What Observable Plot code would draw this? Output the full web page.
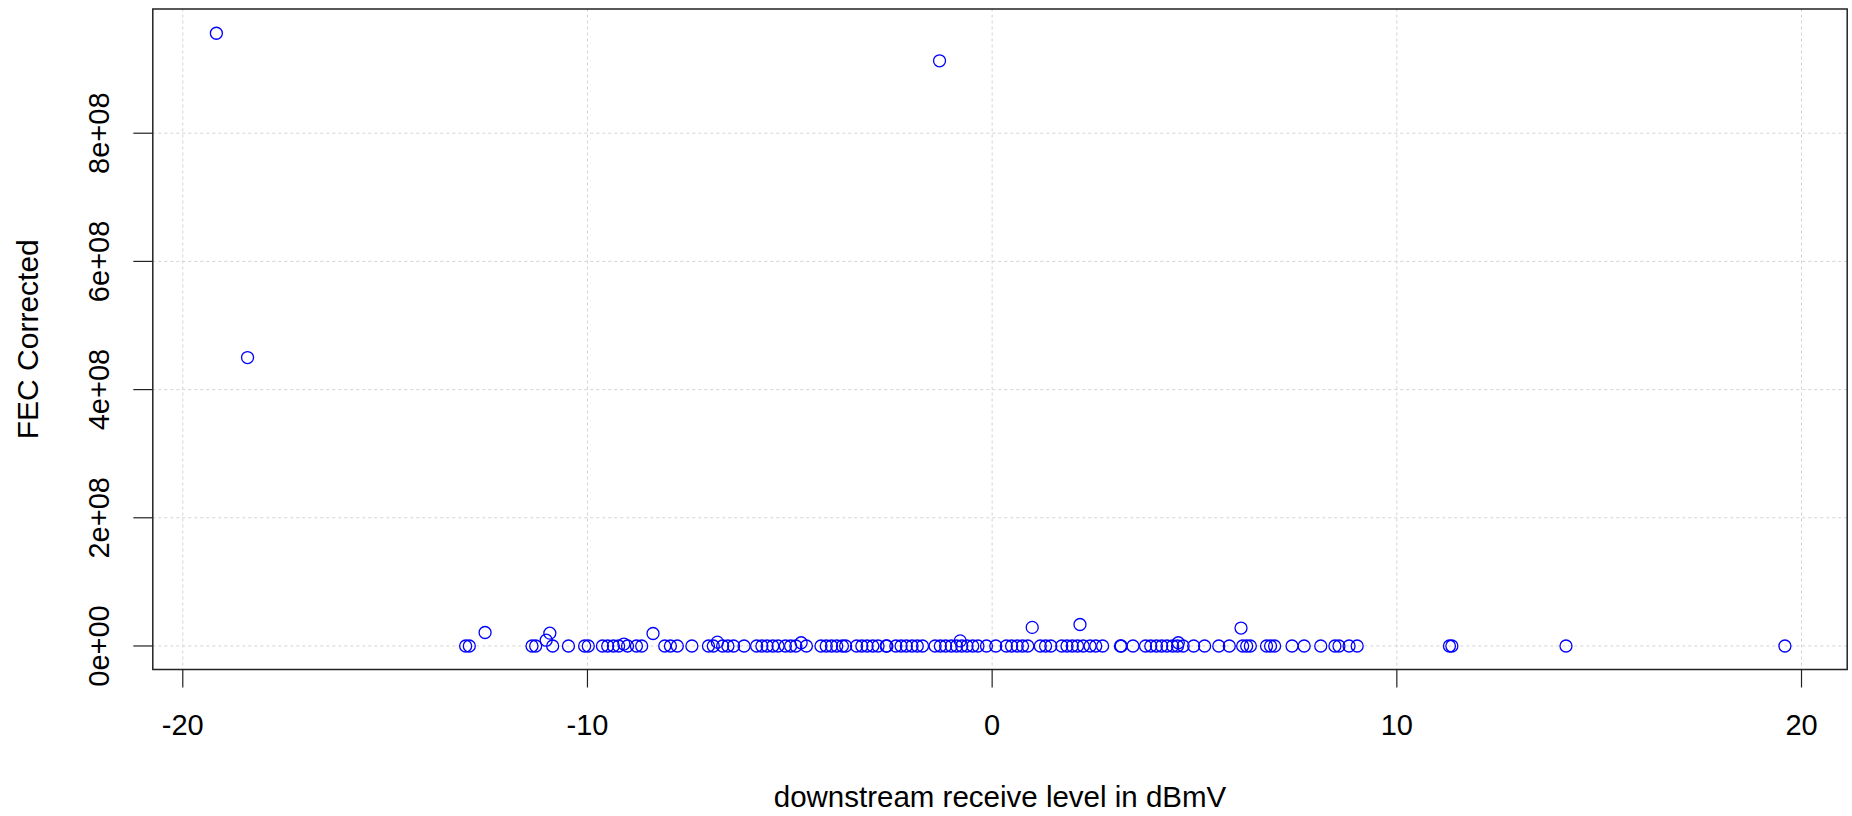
<!DOCTYPE html>
<html>
<head>
<meta charset="utf-8">
<script src="https://cdn.jsdelivr.net/npm/d3@7"></script>
<script src="https://cdn.jsdelivr.net/npm/@observablehq/plot@0.6"></script>
<style>
  html, body { margin: 0; padding: 0; background: #fff; }
  #chart svg { display: block; }
</style>
</head>
<body>
<div id="chart"></div>
<script>
// downstream receive level (dBmV)
const levels = [
  -19.17, -18.40, -1.30,
  -13.01, -12.92, -12.53, -11.37, -11.28, -11.02, -10.93, -10.86, -10.47, -10.07,
  -9.98, -9.63, -9.50, -9.36, -9.23, -9.10, -9.01, -8.79, -8.66, -8.38,
  -8.09, -7.95, -7.78, -7.42, -7.01, -6.89, -6.79, -6.66, -6.53, -6.39,
  -6.13, -5.82, -5.69, -5.56, -5.42, -5.29, -5.11, -4.98, -4.85, -4.72,
  -4.59, -4.23, -4.10, -3.97, -3.84, -3.70, -3.62, -3.35, -3.22, -3.09,
  -2.95, -2.82, -2.62, -2.60, -2.38, -2.25, -2.12, -1.98, -1.85, -1.72,
  -1.41, -1.28, -1.15, -1.01, -0.88, -0.79, -0.75, -0.62, -0.48, -0.35,
  -0.14, 0.09, 0.35, 0.48, 0.62, 0.75, 0.88, 0.99, 1.19, 1.32,
  1.45, 1.72, 1.85, 1.98, 2.11, 2.17, 2.25, 2.42, 2.56, 2.73,
  3.17, 3.19, 3.48, 3.79, 3.92, 4.06, 4.19, 4.32, 4.46, 4.58,
  4.60, 4.72, 4.98, 5.25, 5.60, 5.86, 6.15, 6.19, 6.29, 6.38,
  6.78, 6.88, 6.98, 7.41, 7.71, 8.12, 8.47, 8.57, 8.82, 9.02,
  11.30, 11.36, 14.18, 19.59
];
// FEC corrected counts
const fecCorrected = [
  9.56e8, 4.50e8, 9.13e8,
  0, 0, 2.1e7, 0, 0, 9e6, 2.0e7, 0, 0, 0,
  0, 0, 0, 0, 0, 3e6, 0, 0, 0, 1.95e7,
  0, 0, 0, 0, 0, 0, 6e6, 0, 0, 0,
  0, 0, 0, 0, 0, 0, 0, 0, 0, 5e6,
  0, 0, 0, 0, 0, 0, 0, 0, 0, 0,
  0, 0, 0, 0, 0, 0, 0, 0, 0, 0,
  0, 0, 0, 0, 0, 8e6, 0, 0, 0, 0,
  0, 0, 0, 0, 0, 0, 0, 2.9e7, 0, 0,
  0, 0, 0, 0, 0, 3.35e7, 0, 0, 0, 0,
  0, 0, 0, 0, 0, 0, 0, 0, 0, 0,
  5e6, 0, 0, 0, 0, 0, 2.8e7, 0, 0, 0,
  0, 0, 0, 0, 0, 0, 0, 0, 0, 0,
  0, 0, 0, 0
];
const xTicks = [-20, -10, 0, 10, 20];
const xTickLabels = ["-20", "-10", "0", "10", "20"];
const yTicks = [0, 2e8, 4e8, 6e8, 8e8];
const yTickLabels = ["0e+00", "2e+08", "4e+08", "6e+08", "8e+08"];
const xTitle = "downstream receive level in dBmV";
const yTitle = "FEC Corrected";

const points = levels.map((x, i) => ({x, y: fecCorrected[i]}));

const font = "'Liberation Sans', Arial, Helvetica, sans-serif";

const chart = Plot.plot({
  width: 1852,
  height: 816,
  marginLeft: 152.3,
  marginRight: 5.3,
  marginTop: 8.5,
  marginBottom: 147,
  style: {fontFamily: font, fontSize: "29px", background: "#fff", color: "#000"},
  x: {type: "linear", domain: [-20.741, 21.129], label: null},
  y: {type: "linear", domain: [-0.367e8, 9.938e8], label: null},
  marks: [
    Plot.gridX(xTicks, {stroke: "#d3d3d3", strokeOpacity: 1, strokeWidth: 1, strokeDasharray: "3,3"}),
    Plot.gridY(yTicks, {stroke: "#d3d3d3", strokeOpacity: 1, strokeWidth: 1, strokeDasharray: "3,3"}),
    Plot.dot(points, {x: "x", y: "y", r: 6, stroke: "#0000ff", strokeWidth: 1.3, fill: "none"}),
    Plot.axisX(xTicks, {
      tickSize: 18.5, tickPadding: 26, stroke: "#222", strokeWidth: 1.2,
      tickFormat: d => xTickLabels[xTicks.indexOf(d)],
      fontSize: 29, label: null
    }),
    Plot.axisY(yTicks, {
      tickSize: 19, tickPadding: 25, tickRotate: -90, stroke: "#222", strokeWidth: 1.2,
      tickFormat: d => yTickLabels[yTicks.indexOf(d)],
      fontSize: 29, label: null
    }),
    Plot.frame({stroke: "#222", strokeWidth: 1.5}),
    Plot.text([xTitle], {frameAnchor: "bottom", dy: 137.7, lineAnchor: "bottom", textAnchor: "middle", fontSize: 29.5, fill: "#000"}),
    Plot.text([yTitle], {frameAnchor: "left", dx: -115.3, rotate: -90, lineAnchor: "bottom", textAnchor: "middle", fontSize: 30, fill: "#000"})
  ]
});

document.getElementById("chart").appendChild(chart);
</script>
</body>
</html>
